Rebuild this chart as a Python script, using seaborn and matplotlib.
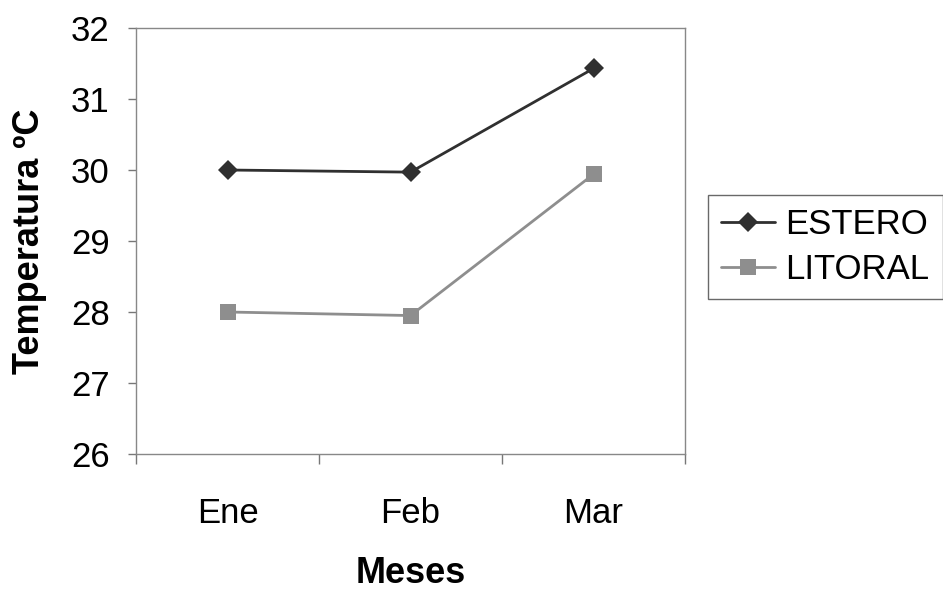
import matplotlib
matplotlib.use("Agg")
import matplotlib.pyplot as plt
import seaborn as sns
import pandas as pd

meses = ["Ene", "Feb", "Mar"]
estero = [30.0, 29.97, 31.43]
litoral = [28.0, 27.95, 29.94]
series = ["ESTERO", "LITORAL"]

sns.set_style("white")
plt.rcParams['font.family'] = ['Liberation Sans', 'DejaVu Sans']
plt.rcParams['text.color'] = 'black'
plt.rcParams['xtick.labelcolor'] = 'black'
plt.rcParams['ytick.labelcolor'] = 'black'
plt.rcParams['axes.labelcolor'] = 'black'

df = pd.DataFrame({
    "Mes": list(range(len(meses))) * 2,
    "Temp": estero + litoral,
    "Serie": [series[0]] * 3 + [series[1]] * 3,
})

fig = plt.figure(figsize=(9.43, 5.91), dpi=100)
ax = fig.add_axes([136/943, 1-454/591, (685-136)/943, (454-28)/591])

palette = {"ESTERO": "#303030", "LITORAL": "#8e8e8e"}
markers = {"ESTERO": "D", "LITORAL": "s"}
sns.lineplot(data=df, x="Mes", y="Temp", hue="Serie", style="Serie",
             palette=palette, markers=markers, dashes=False,
             linewidth=2, markeredgewidth=0, ax=ax)
for ln in ax.get_lines():
    if ln.get_marker() == 's':
        ln.set_markersize(11)
    else:
        ln.set_markersize(10)

ax.set_ylim(26, 32)
ax.set_xlim(-0.5, 2.5)
ax.set_yticks([26, 27, 28, 29, 30, 31, 32])
ax.set_xticks([-0.5, 0.5, 1.5, 2.5])
ax.set_xticklabels([])
ax.set_xticks(range(len(meses)), minor=True)
ax.set_xticklabels(meses, minor=True)
ax.tick_params(axis='x', which='minor', length=0, pad=31, labelsize=25, labelcolor='black')
ax.tick_params(axis='x', which='major', length=7, width=1, color="#777777", direction='out', bottom=True)
ax.tick_params(axis='y', length=6, width=1, color="#777777", direction='out', left=True, labelsize=25, pad=13, labelcolor='black')

for s in ax.spines.values():
    s.set_color("#888888")
    s.set_linewidth(1)

ax.set_xlabel("Meses", fontsize=26, fontweight='bold', labelpad=19, color='black')
ax.set_ylabel("Temperatura ºC", fontsize=26, fontweight='bold', labelpad=17, color='black')

handles, labels = ax.get_legend_handles_labels()
for h in handles:
    if h.get_marker() == 's':
        h.set_markersize(11)
    else:
        h.set_markersize(10)
leg = ax.legend(handles, labels, loc='upper left', bbox_to_anchor=(708/943, 1-195/591),
                bbox_transform=fig.transFigure, fontsize=25, frameon=True,
                fancybox=False, edgecolor="#444444", handlelength=1.55,
                handletextpad=0.3, borderpad=0.38, labelspacing=0.33, borderaxespad=0)
leg.get_frame().set_linewidth(1)
for t in leg.get_texts():
    t.set_color('black')

fig.savefig("out.png", dpi=100)
